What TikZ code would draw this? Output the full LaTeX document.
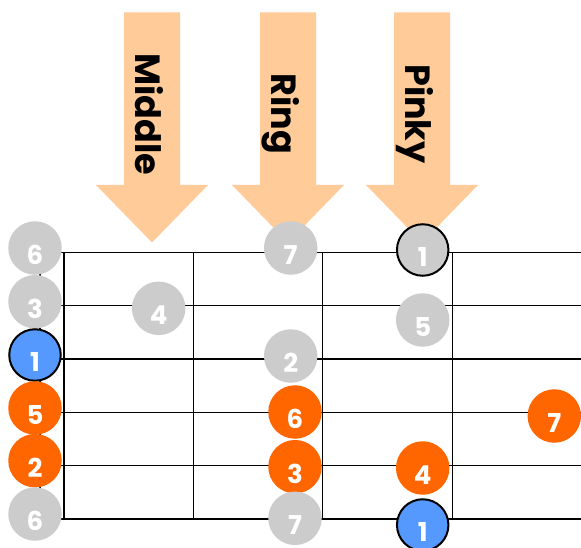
\documentclass[tikz,border=0pt]{standalone}
\usepackage{fontspec}
\setmainfont{Poppins}
\definecolor{peach}{HTML}{FFCC99}
\definecolor{gry}{HTML}{CCCCCC}
\definecolor{org}{HTML}{FF6600}
\definecolor{blu}{HTML}{5599FF}
\newcommand\fingerarrow[2]{%
  \fill[arr] (#1-28,12.3) -- (#1+28,12.3) -- (#1+28,185) -- (#1+56,185)
    -- (#1,242.5) -- (#1-56,185) -- (#1-28,185) -- cycle;
  \node[flabel] (#2) at (#1-17,114) {#2};}
\newcommand\fdot[5]{%
  \node[#4] (#1) at (#2,#3) {};
  \node[digit] (#1t) at ([yshift=-7pt]#1.center) {#5};}
\begin{document}
\begin{tikzpicture}[x=1pt,y=-1pt,
  strg/.style={line width=1.3pt,black},
  arr/.style={fill=peach},
  flabel/.style={rotate=-90,anchor=base,inner sep=0pt,
    font=\fontsize{35}{35}\selectfont\bfseries},
  dotg/.style={circle,fill=gry,minimum size=53.5pt,inner sep=0pt},
  doto/.style={dotg,fill=org},
  dotb/.style={dotg,fill=blu,draw=black,line width=2pt,minimum size=51.5pt},
  dotgb/.style={dotg,draw=black,line width=2pt,minimum size=51.5pt},
  digit/.style={text=white,inner sep=0pt,
    font=\fontsize{26}{26}\selectfont\bfseries}]
\fill[white] (0,0) rectangle (581,548);
\useasboundingbox (0,0) rectangle (581,548);
\clip (0,0) rectangle (581,548);
% strings
\foreach \k in {0,...,5}{
  \draw[strg] (40,252.3+53.35*\k) -- (581,252.3+53.35*\k);}
% nut and frets
\foreach \x in {40,64,193.4,322.8,452.2}{
  \draw[strg] (\x,252.3) -- (\x,519.05);}
% finger arrows
\fingerarrow{152}{Middle}
\fingerarrow{288}{Ring}
\fingerarrow{422}{Pinky}
% notes
\fdot{a1}{35}{248}{dotg}{6}
\fdot{a2}{35}{301.7}{dotg}{3}
\fdot{a3}{35}{355}{dotb}{1}
\fdot{a4}{35}{408}{doto}{5}
\fdot{a5}{35}{460.7}{doto}{2}
\fdot{a6}{35}{514}{dotg}{6}
\fdot{b1}{158.7}{308.3}{dotg}{4}
\fdot{c1}{290.7}{248}{dotg}{7}
\fdot{c2}{290.7}{356}{dotg}{2}
\fdot{c3}{295}{412}{doto}{6}
\fdot{c4}{295}{466.7}{doto}{3}
\fdot{c5}{295}{518.3}{dotg}{7}
\fdot{d1}{422.7}{250}{dotgb}{1}
\fdot{d2}{422.7}{320}{dotg}{5}
\fdot{d3}{422.7}{468}{doto}{4}
\fdot{d4}{422.7}{525}{dotb}{1}
\fdot{e1}{554.3}{416}{doto}{7}
\end{tikzpicture}
\end{document}
